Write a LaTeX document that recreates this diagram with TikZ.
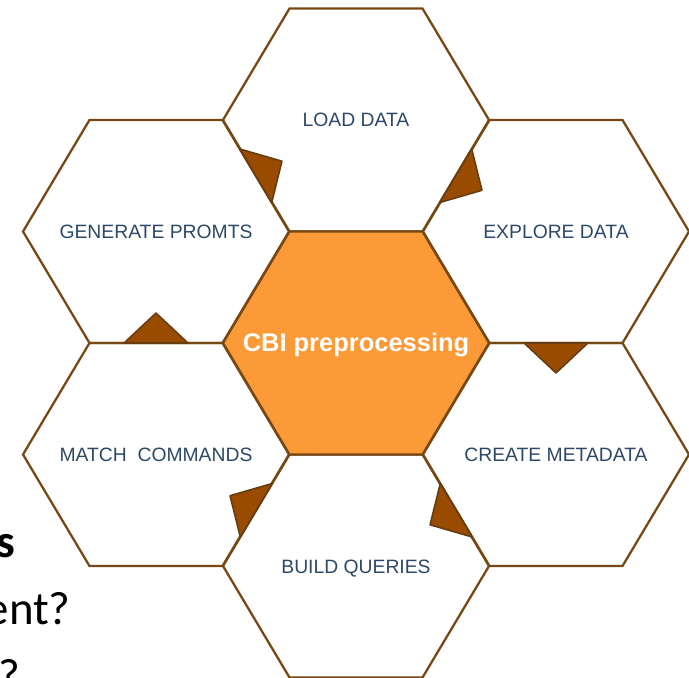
\documentclass[tikz,border=0pt]{standalone}
\usepackage{fontspec}
\setmainfont{Liberation Sans}
\newfontfamily\slidefont{Carlito}
\usetikzlibrary{calc}

\definecolor{hexbrown}{RGB}{120,72,20}
\definecolor{tribrown}{RGB}{153,76,0}
\definecolor{cbiorange}{RGB}{253,154,56}
\definecolor{labelblue}{RGB}{44,72,102}

\tikzset{
    hexline/.style={draw=hexbrown,line width=1.3pt,line join=miter},
    flowtri/.style={fill=tribrown,draw=hexbrown!85!black,line width=0.9pt,line join=round},
    steplabel/.style={text=labelblue,font=\fontsize{11}{13}\selectfont,inner sep=0pt,anchor=base},
    slidetext/.style={text=black,inner sep=0pt,anchor=base east},
}

\begin{document}
\begin{tikzpicture}[x=0.02cm,y=-0.02cm]
    \useasboundingbox (0,0) rectangle (689,678);

    % Define hexagon centres and corners
    \foreach \n/\cx/\cy in {load/356/120, explore/556/231.5, meta/556/454.5, build/356/566,
                            match/156/454.5, prompt/156/231.5, cbi/356/343} {
        \coordinate (\n) at (\cx,\cy);
        \coordinate (\n-1) at (\cx-133,\cy);
        \coordinate (\n-2) at (\cx-66.5,\cy-111.5);
        \coordinate (\n-3) at (\cx+66.5,\cy-111.5);
        \coordinate (\n-4) at (\cx+133,\cy);
        \coordinate (\n-5) at (\cx+66.5,\cy+111.5);
        \coordinate (\n-6) at (\cx-66.5,\cy+111.5);
    }

    % Left-over slide text
    \node[slidetext,font=\slidefont\bfseries\fontsize{26.7}{32}\selectfont] (wordS) at (16,557) {s};
    \node[slidetext,font=\slidefont\fontsize{26.7}{32}\selectfont] (wordEnt) at (71,624) {ent?};
    \node[slidetext,font=\slidefont\fontsize{26.7}{32}\selectfont] (wordQ) at (21,691) {?};

    % Draw hexagons
    \foreach \n in {load,explore,meta,build,match,prompt}
        \draw[hexline] (\n-1) -- (\n-2) -- (\n-3) -- (\n-4) -- (\n-5) -- (\n-6) -- cycle;
    \filldraw[hexline,fill=cbiorange] (cbi-1) -- (cbi-2) -- (cbi-3) -- (cbi-4) -- (cbi-5) -- (cbi-6) -- cycle;

    % Flow triangles on the shared edges
    \foreach \p/\q/\nxt in {prompt-3/prompt-4/load, load-4/load-5/explore, explore-6/explore-5/meta,
                            meta-1/meta-6/build, build-2/build-1/match, match-2/match-3/prompt}
        \filldraw[flowtri] ($(\p)!0.26!(\q)$) -- ($(\p)!0.5!(\q)!0.6cm!(\nxt)$) -- ($(\p)!0.74!(\q)$) -- cycle;

    % Label hexagons
    \foreach \n/\txt in {load/LOAD DATA, explore/EXPLORE DATA, meta/CREATE METADATA,
                         build/BUILD QUERIES, match/MATCH\ \ COMMANDS, prompt/GENERATE PROMTS}
        \node[steplabel] (\n-text) at ([yshift=-0.14cm]\n) {\txt};
    \node[steplabel,text=white,font=\bfseries\fontsize{14.5}{17}\selectfont] (cbi-text)
        at ([yshift=-0.18cm]cbi) {CBI preprocessing};

\end{tikzpicture}
\end{document}
